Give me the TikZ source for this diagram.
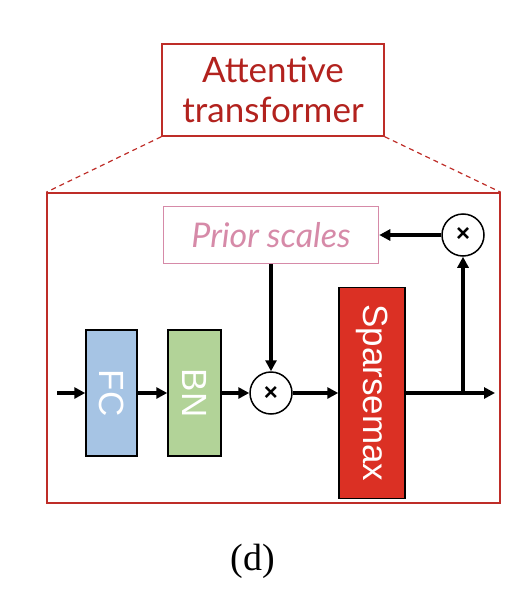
\documentclass[tikz,border=0pt]{standalone}
\usepackage{fontspec}
\setmainfont{Liberation Serif}
\setsansfont{Liberation Sans}
\newfontfamily\avfont{Lato}
\usetikzlibrary{arrows.meta}
\definecolor{titlered}{RGB}{178,34,30}
\definecolor{framered}{RGB}{190,45,40}
\definecolor{priorpink}{RGB}{214,138,168}
\definecolor{fcblue}{RGB}{166,196,228}
\definecolor{bngreen}{RGB}{178,211,152}
\definecolor{sparsered}{RGB}{219,48,36}
\begin{document}
\begin{tikzpicture}[
			x=1pt, y=-1pt,
			layer/.style={draw=black, line width=1.5pt, inner sep=0, rotate=-90,
				text=white, font=\sffamily\fontsize{35}{35}\selectfont},
			mult/.style={circle, draw=black, line width=1.5pt, minimum size=42pt, inner sep=0,
				font=\sffamily\bfseries\fontsize{24}{24}\selectfont},
			flow/.style={line width=3.3pt, -{Triangle[length=11pt,width=11pt]}},
		]
		\useasboundingbox (0,0) rectangle (528,604);
		% title and frame
		\node[draw=framered, line width=1.5pt, minimum width=222pt, minimum height=92pt, inner sep=0,
			align=center, text=titlered, font=\avfont\fontsize{35}{40}\selectfont] (title) at (273,90)
			{Attentive\\transformer};
		\node[draw=framered, line width=1.5pt, minimum width=453pt, minimum height=310pt, inner sep=0] (frame) at (273.5,348) {};
		\draw[framered, line width=1.2pt, dash pattern=on 5pt off 4pt] (title.south west) -- (frame.north west);
		\draw[framered, line width=1.2pt, dash pattern=on 5pt off 4pt] (title.south east) -- (frame.north east);
		% blocks
		\node[layer, fill=fcblue, minimum width=126pt, minimum height=51pt] (fc) at (111.5,393) {FC};
		\node[layer, fill=bngreen, minimum width=126pt, minimum height=53pt] (bn) at (194.5,393) {BN};
		\node[mult] (mul1) at (271,393) {×};
		\node[layer, fill=sparsered, minimum width=211pt, minimum height=66pt] (sparse) at (372,393) {Sparsemax};
		\node[mult] (mul2) at (463,235) {×};
		\node[draw=priorpink, line width=1.5pt, minimum width=215pt, minimum height=57pt, inner sep=0,
			text=priorpink, font=\avfont\itshape\fontsize{34}{34}\selectfont] (prior) at (271,235) {Prior scales};
		\coordinate (in) at (57,393);
		\coordinate (out) at (495,393);
		\coordinate (split) at (463,393);
		% connections
		\draw[flow] (in) -- (fc);
		\draw[flow] (fc) -- (bn);
		\draw[flow] (bn) -- (mul1);
		\draw[flow] (mul1) -- (sparse);
		\draw[flow] (sparse) -- (out);
		\draw[flow] (split) -- (mul2);
		\draw[flow] (mul2) -- (prior);
		\draw[flow] (prior) -- (mul1);
		\node[font=\fontsize{38}{38}\selectfont] (caption) at (253,561) {(d)};
		\end{tikzpicture}
\end{document}
